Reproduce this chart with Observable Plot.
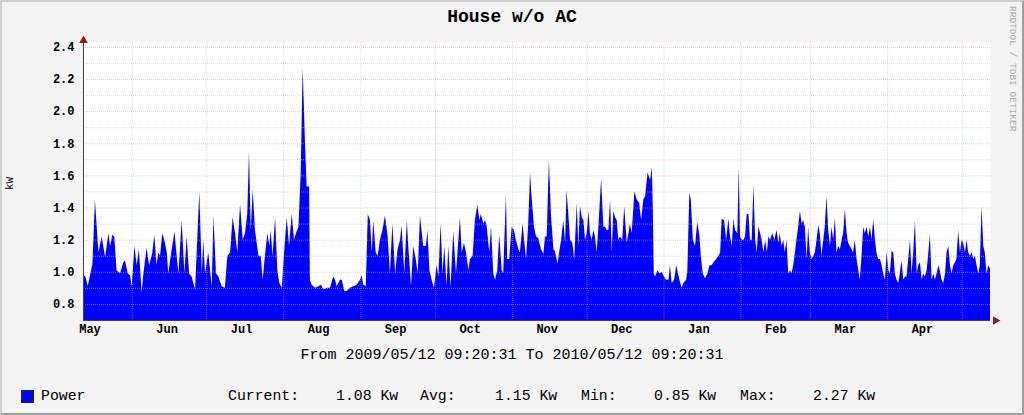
<!DOCTYPE html>
<html>
<head>
<meta charset="utf-8">
<script src="https://cdn.jsdelivr.net/npm/d3@7"></script>
<script src="https://cdn.jsdelivr.net/npm/@observablehq/plot@0.6"></script>
<style>
  html, body { margin: 0; padding: 0; background: #f3f3f3; }
  #wrap { position: relative; width: 1024px; height: 415px; background: #f3f3f3; overflow: hidden;
          font-family: "Liberation Mono", "DejaVu Sans Mono", monospace; color: #000; }
  #frame { position: absolute; left: 0; top: 0; width: 1024px; height: 415px; box-sizing: border-box;
           border-top: 2px solid #cfcfcf; border-left: 2px solid #cfcfcf;
           border-right: 2px solid #9e9e9e; border-bottom: 2px solid #9e9e9e; pointer-events: none; }
  #chart { position: absolute; left: 0; top: 0; }
  #chart svg text { font-weight: bold; }
  .t { position: absolute; white-space: pre; line-height: 1; }
  #title { left: 0; width: 1024px; top: 8px; text-align: center; font-size: 18px; font-weight: bold; }
  #ylab { left: 4px; top: 178px; font-size: 11px; transform: rotate(-90deg); transform-origin: 50% 50%; }
  #credit { left: 1007px; top: 6px; font-size: 9.5px; color: #a8a8a8; writing-mode: vertical-rl; }
  #range { left: 0; width: 1024px; top: 348px; text-align: center; font-size: 15px; }
  .leg { top: 389px; font-size: 14.8px; }
  #swatch { position: absolute; left: 21px; top: 390px; width: 11px; height: 11px; background: #0000ff; border: 1px solid #202060; }
</style>
</head>
<body>
<div id="wrap">
  <div id="chart"></div>
  <div id="title" class="t">House w/o AC</div>
  <div id="ylab" class="t">kW</div>
  <div id="credit" class="t">RRDTOOL / TOBI OETIKER</div>
  <div id="range" class="t">From 2009/05/12 09:20:31 To 2010/05/12 09:20:31</div>
  <div id="swatch"></div>
  <div class="t leg" style="left:41px">Power</div>
  <div class="t leg" style="left:228px">Current:</div>
  <div class="t leg" style="left:336px">1.08 Kw</div>
  <div class="t leg" style="left:420px">Avg:</div>
  <div class="t leg" style="left:495px">1.15 Kw</div>
  <div class="t leg" style="left:581px">Min:</div>
  <div class="t leg" style="left:654px">0.85 Kw</div>
  <div class="t leg" style="left:740px">Max:</div>
  <div class="t leg" style="left:813px">2.27 Kw</div>
  <div id="frame"></div>
</div>
<script>
// Time range of the graph
const startTime = "2009-05-12T09:20:31Z";
const endTime = "2010-05-12T09:20:31Z";

// Days since start of each reading
const dayOffset = [
  0,1.0,1.9,3.8,4.8,6.2,7.5,8.9,10.2,10.9,11.8,12.6,13.5,14.9,16.2,16.9,18.0,18.9,19.6,20.7,21.6,22.5,23.6,24.3,25.6,26.6,27.9,28.7,29.6,30.3,31.0,31.9,32.7,33.7,34.3,35.7,36.8,37.7,38.4,39.7,40.8,41.7,42.7,43.7,
  45.1,46.8,47.8,48.4,49.1,50.4,51.8,52.5,53.5,54.5,55.8,57.1,58.1,59.2,60.2,61.2,62.1,63.2,64.3,65.2,66.1,66.8,67.5,68.3,69.2,70.6,71.5,72.3,73.2,74.2,75.0,75.5,76.3,77.3,78.2,79.0,80.0,80.9,82.0,82.9,84.0,84.9,85.7,86.7,87.6,88.4,89.3,90.0,91.0,
  91.3,92.0,93.4,94.7,95.8,96.7,98.1,99.4,100.7,101.4,102.1,103.4,104.1,105.2,106.1,107.4,108.8,110.1,111.5,112.1,112.8,113.8,114.6,115.5,116.2,116.8,117.8,118.6,119.5,120.5,121.5,122.6,123.5,124.5,125.6,126.6,127.6,128.2,129.3,130.3,130.9,132.0,132.9,133.9,134.7,135.6,
  136.9,138.0,138.6,139.4,140.3,141.2,142.3,143.0,143.9,144.7,145.4,146.3,147.0,147.9,149.0,150.1,150.6,151.7,152.4,153.3,154.1,155.1,155.7,156.8,157.7,158.7,159.5,160.1,161.1,161.8,162.4,163.5,164.2,165.1,165.8,166.7,167.5,168.5,169.1,170.2,170.7,171.5,172.5,173.4,174.2,175.2,175.8,176.9,177.5,178.3,179.2,179.9,180.5,181.5,182.3,183.2,
  184.3,185.3,185.9,186.6,187.5,188.3,189.3,189.9,191.0,191.6,192.4,193.3,194.0,194.6,195.3,196.0,196.9,197.7,198.7,199.3,200.0,200.7,201.4,202.0,202.7,203.4,204.0,204.7,205.4,206.0,206.7,207.4,208.5,209.4,210.1,210.7,211.4,212.1,212.8,213.4,214.1,214.8,215.4,216.1,217.0,217.8,218.8,219.5,220.1,220.8,221.9,222.8,223.8,224.6,225.5,226.2,227.2,228.2,228.9,229.3,229.7,230.2,
  231.2,232.0,232.9,233.8,234.6,235.6,236.2,236.9,237.9,238.7,239.2,240.0,240.9,241.6,242.7,243.2,244.0,244.6,245.4,246.3,247.2,248.1,248.6,249.4,250.3,251.3,252.1,253.0,253.7,254.8,255.7,256.4,257.0,258.0,258.8,259.7,260.4,261.1,261.7,262.4,263.3,263.9,264.4,265.1,265.8,266.4,267.1,267.8,268.4,269.1,269.8,270.5,271.1,271.8,272.5,273.1,273.8,274.5,275.2,275.8,276.5,
  277.4,278.2,279.1,279.8,280.4,281.1,281.8,282.4,283.1,283.8,284.5,285.1,285.8,286.5,287.1,287.8,288.5,289.2,289.8,290.5,291.2,291.8,292.5,293.2,293.9,294.5,295.2,295.9,296.5,297.2,297.9,298.5,299.2,299.9,300.6,301.2,301.9,302.6,303.2,303.9,304.6,305.3,305.9,306.6,307.3,307.9,308.6,309.3,309.9,310.6,311.3,312.0,312.6,313.3,314.0,314.6,315.3,316.0,316.7,317.3,318.0,318.7,319.3,320.0,320.7,321.4,322.0,
  322.7,323.4,324.1,324.7,325.4,326.1,326.7,327.4,328.1,328.7,329.4,330.1,330.8,331.4,332.1,332.8,333.4,334.1,334.8,335.5,336.1,336.8,337.5,338.1,338.8,339.5,340.2,340.8,341.5,342.2,342.8,343.5,344.2,344.8,345.5,346.2,346.9,347.5,348.2,348.9,349.5,350.2,350.9,351.5,352.2,352.9,353.6,354.2,354.9,355.6,356.2,356.9,357.6,358.3,358.9,359.6,360.3,360.9,361.6,362.3,362.9,363.6,364.3,365.0
];

// Power (kW) at each reading
const powerKw = [
  0.98,0.97,0.91,1.05,1.45,1.12,1.22,1.09,1.24,1.16,1.23,1.22,1.01,0.99,1.06,1.07,0.99,0.98,0.91,1.16,1.04,1.14,0.87,0.99,1.15,1.04,1.12,1.23,1.04,1.12,1.10,1.24,1.20,1.12,0.99,1.14,1.25,1.10,0.99,1.32,0.99,1.22,0.99,0.97,
  0.89,1.50,0.99,1.20,0.99,1.12,0.91,1.35,0.99,0.97,0.91,0.90,1.10,1.12,1.34,1.24,1.12,1.42,1.20,1.24,1.36,1.75,1.26,1.51,1.26,1.10,1.10,0.95,1.10,1.24,1.16,1.26,1.10,1.34,1.01,0.93,0.90,1.12,1.34,1.16,1.36,1.20,1.24,1.28,1.61,2.27,1.82,1.53,1.53,
  0.95,0.92,0.90,0.91,0.92,0.89,0.90,0.90,0.97,0.95,0.91,0.95,0.95,0.88,0.88,0.90,0.91,0.92,0.95,0.98,0.92,0.91,1.36,1.32,1.12,1.32,1.12,1.10,1.20,1.26,1.35,1.22,0.99,1.30,0.99,1.14,1.20,1.29,0.99,1.32,1.16,0.91,1.16,1.08,0.99,1.35,
  1.16,1.16,1.26,1.01,0.95,0.90,1.04,0.97,1.30,0.99,1.16,0.91,1.16,0.90,1.25,0.99,1.10,1.34,1.12,1.18,1.12,1.01,1.08,1.10,1.32,1.42,1.32,1.36,1.30,1.32,1.29,1.12,1.28,0.99,0.95,1.01,1.23,1.01,0.99,1.48,1.08,1.08,1.28,1.26,1.20,1.14,1.12,1.30,1.20,1.08,1.31,1.62,1.47,1.28,1.22,1.21,
  1.14,1.11,1.22,1.22,1.70,1.36,1.14,1.13,1.05,1.12,1.20,1.32,1.18,1.51,1.36,1.20,1.18,1.08,1.43,1.16,1.41,1.34,1.32,1.20,1.24,1.38,1.24,1.20,1.26,1.22,1.12,1.28,1.58,1.28,1.28,1.26,1.26,1.45,1.12,1.38,1.34,1.32,1.20,1.22,1.20,1.41,1.18,1.24,1.30,1.24,1.50,1.45,1.43,1.32,1.45,1.47,1.62,1.57,1.65,1.40,0.99,0.97,
  1.01,0.99,1.00,0.97,0.95,0.95,1.04,0.93,0.95,1.04,1.01,0.95,0.90,0.93,0.95,1.01,1.49,1.45,1.20,1.16,1.31,1.22,1.10,0.99,0.96,0.99,1.04,1.04,1.06,1.08,1.10,1.12,1.33,1.32,1.20,1.33,1.22,1.16,1.33,1.26,1.24,1.65,1.22,1.20,1.20,1.22,1.36,1.36,1.20,1.20,1.54,1.20,1.12,1.28,1.24,1.20,1.12,1.20,1.12,1.22,1.20,
  1.24,1.20,1.26,1.18,1.24,1.16,1.20,1.12,1.20,0.99,1.01,0.99,1.04,1.12,1.20,1.28,1.38,1.30,1.32,1.28,1.08,1.28,1.12,1.08,1.10,1.12,1.20,1.29,1.24,1.10,1.20,1.28,1.47,1.26,1.16,1.28,1.20,1.34,1.12,1.16,1.14,1.20,1.24,1.39,1.24,1.18,1.16,1.14,1.12,1.20,1.08,1.01,0.95,1.10,1.28,1.24,1.28,1.22,1.28,1.20,1.33,1.20,1.12,1.08,1.08,1.04,0.99,
  0.95,1.12,1.01,0.99,1.13,1.12,0.99,0.95,0.93,0.99,1.07,0.95,0.97,0.97,1.08,1.20,0.99,1.12,1.32,0.99,1.04,1.06,0.95,0.99,0.97,1.01,1.12,1.24,0.95,0.99,0.95,0.99,1.04,1.01,0.95,0.93,0.99,1.12,1.16,1.04,0.99,1.04,1.06,1.08,1.26,1.12,1.20,1.18,1.12,1.20,1.12,1.10,1.12,1.08,1.10,1.04,0.99,1.04,1.41,1.16,1.12,0.99,1.04,1.02
];

// Month label positions (mid-month) and month boundaries (grid)
const monthLabelDates = ["2009-05-15","2009-06-15","2009-07-15","2009-08-15","2009-09-15","2009-10-15","2009-11-15","2009-12-15","2010-01-15","2010-02-15","2010-03-15","2010-04-15"];
const monthStartDates = ["2009-06-01","2009-07-01","2009-08-01","2009-09-01","2009-10-01","2009-11-01","2009-12-01","2010-01-01","2010-02-01","2010-03-01","2010-04-01","2010-05-01"];
const yMajorTicks = [0.8, 1.0, 1.2, 1.4, 1.6, 1.8, 2.0, 2.2, 2.4];
const yMinorTicks = [0.9, 1.1, 1.3, 1.5, 1.7, 1.9, 2.1, 2.3];
const yDomain = [0.7, 2.43];

const t0 = new Date(startTime), t1 = new Date(endTime);
const n = Math.min(dayOffset.length, powerKw.length);
const data = d3.range(n).map(i => ({date: new Date(+t0 + dayOffset[i] * 864e5), kw: powerKw[i]}));
const labelDates = monthLabelDates.map(s => new Date(s + "T00:00:00Z"));
const gridDates = monthStartDates.map(s => new Date(s + "T00:00:00Z"));

const chart = Plot.plot({
  width: 1024,
  height: 415,
  marginLeft: 83,
  marginRight: 34,
  marginTop: 42,
  marginBottom: 95,
  style: {background: "transparent", fontFamily: "'Liberation Mono', 'DejaVu Sans Mono', monospace", fontSize: "12px", color: "#000"},
  x: {type: "utc", domain: [t0, t1], ticks: labelDates, tickFormat: d3.utcFormat("%b"), tickSize: 0, tickPadding: 4, label: null},
  y: {domain: yDomain, ticks: yMajorTicks, tickFormat: d3.format(".1f"), tickSize: 0, tickPadding: 9, label: null},
  marks: [
    Plot.frame({fill: "#ffffff", stroke: "none"}),
    Plot.areaY(data, {x: "date", y: "kw", fill: "#0000ff", curve: "linear", clip: true}),
    Plot.ruleY(yMinorTicks, {stroke: "#c4c4c4", strokeDasharray: "1,1", strokeOpacity: 0.6}),
    Plot.ruleY(yMajorTicks, {stroke: "#e89a9a", strokeDasharray: "1,1", strokeOpacity: 0.55}),
    Plot.ruleX(gridDates, {stroke: "#e8a8a8", strokeDasharray: "1,1", strokeOpacity: 0.5}),
    Plot.ruleY([yDomain[0]], {stroke: "#404040"}),
    Plot.ruleX([t0], {stroke: "#404040"}),
    Plot.dot([0], {frameAnchor: "top-left", symbol: "triangle", r: 3.2, fill: "#8b1a1a", stroke: "none", dy: -2}),
    Plot.dot([0], {frameAnchor: "bottom-right", symbol: "triangle", rotate: 90, r: 3.2, fill: "#8b1a1a", stroke: "none", dx: 5})
  ]
});
document.getElementById("chart").appendChild(chart);
</script>
</body>
</html>
